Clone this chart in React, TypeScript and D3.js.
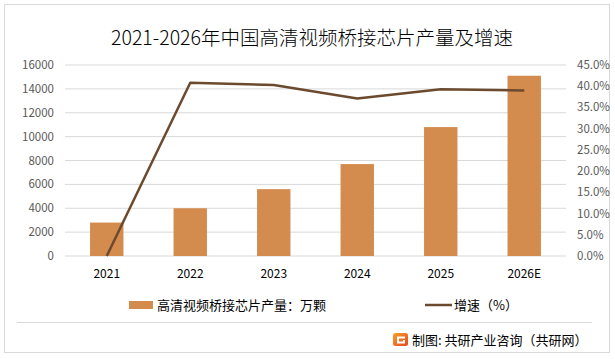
import React from 'react';
import * as d3 from 'd3';

const years = ['2021', '2022', '2023', '2024', '2025', '2026E'];
const output = [2800, 4000, 5600, 7700, 10800, 15100];
const growth = [0, 40.8, 40.3, 37.1, 39.3, 39.0];
const leftTicks = [0, 2000, 4000, 6000, 8000, 10000, 12000, 14000, 16000];
const rightTicks = [0, 5, 10, 15, 20, 25, 30, 35, 40, 45];

const W = 615;
const H = 359;
const font = '"Noto Sans CJK SC", "Noto Sans", sans-serif';
const colors = {
  bar: '#d38b4e',
  line: '#6b4a2e',
  grid: '#d9d9d9',
  frame: '#d9d9d9',
  axisText: '#595959',
  text: '#000',
};

const App: React.FC = () => {
  const plot = { left: 65, right: 566, top: 65, bottom: 256 };

  const x = d3.scaleBand<string>()
    .domain(years)
    .range([plot.left, plot.right])
    .paddingInner(0.6)
    .paddingOuter(0.3);
  const yLeft = d3.scaleLinear().domain([0, 16000]).range([plot.bottom, plot.top]);
  const yRight = d3.scaleLinear().domain([0, 45]).range([plot.bottom, plot.top]);

  const line = d3.line<number>()
    .x((_, i) => (x(years[i]) ?? 0) + x.bandwidth() / 2)
    .y((d) => yRight(d));

  return (
    <svg width={W} height={H} style={{ position: 'absolute', left: 0, top: 0, background: '#fff' }} fontFamily={font}>
      {/* frame */}
      <rect x={4.5} y={4.5} width={605} height={348} fill="#fff" stroke={colors.frame} strokeWidth={1} />

      {/* title */}
      <text x={312} y={45} textAnchor="middle" fontSize={19.5} fontWeight={300} fill={colors.text}>
        2021-2026年中国高清视频桥接芯片产量及增速
      </text>

      {/* gridlines */}
      {leftTicks.map((t) => (
        <line key={t} x1={plot.left} x2={plot.right} y1={yLeft(t)} y2={yLeft(t)} stroke={colors.grid} strokeWidth={1} />
      ))}

      {/* left axis labels */}
      {leftTicks.map((t) => (
        <text key={t} x={54} y={yLeft(t) + 4} textAnchor="end" fontSize={11.5} fill={colors.axisText}>
          {t}
        </text>
      ))}

      {/* right axis labels */}
      {rightTicks.map((t) => (
        <text key={t} x={577} y={yRight(t) + 4} textAnchor="start" fontSize={11.5} fill={colors.axisText}>
          {t.toFixed(1)}%
        </text>
      ))}

      {/* bars */}
      {output.map((v, i) => (
        <rect
          key={years[i]}
          x={x(years[i])}
          y={yLeft(v)}
          width={x.bandwidth()}
          height={plot.bottom - yLeft(v)}
          fill={colors.bar}
        />
      ))}

      {/* growth line */}
      <path d={line(growth) ?? ''} fill="none" stroke={colors.line} strokeWidth={2.5} strokeLinejoin="round" />

      {/* x labels */}
      {years.map((yr) => (
        <text key={yr} x={(x(yr) ?? 0) + x.bandwidth() / 2} y={278} textAnchor="middle" fontSize={12} fill={colors.text}>
          {yr}
        </text>
      ))}

      {/* legend */}
      <rect x={129} y={301} width={24} height={8} fill={colors.bar} />
      <text x={157} y={309.5} fontSize={13} fill={colors.text}>高清视频桥接芯片产量：万颗</text>
      <line x1={425} x2={452} y1={305} y2={305} stroke={colors.line} strokeWidth={2.5} />
      <text x={454} y={309.5} fontSize={13} fill={colors.text}>增速（%）</text>

      {/* separator */}
      <line x1={17} x2={592} y1={322.5} y2={322.5} stroke={colors.frame} strokeWidth={1} />

      {/* source */}
      <defs>
        <linearGradient id="logoGrad" x1="0" y1="0" x2="1" y2="1">
          <stop offset="0%" stopColor="#f7a12a" />
          <stop offset="100%" stopColor="#e8461e" />
        </linearGradient>
      </defs>
      <rect x={393} y={333} width={15} height={13} rx={2.5} fill="url(#logoGrad)" />
      <path d="M397 336.5 H405 V338.5 H399 V341.5 H403 V340 H405 V343.5 H397 Z" fill="#fff" />
      <text x={412} y={344.5} fontSize={13} fill={colors.text}>制图: 共研产业咨询（共研网）</text>
    </svg>
  );
};

export default App;
